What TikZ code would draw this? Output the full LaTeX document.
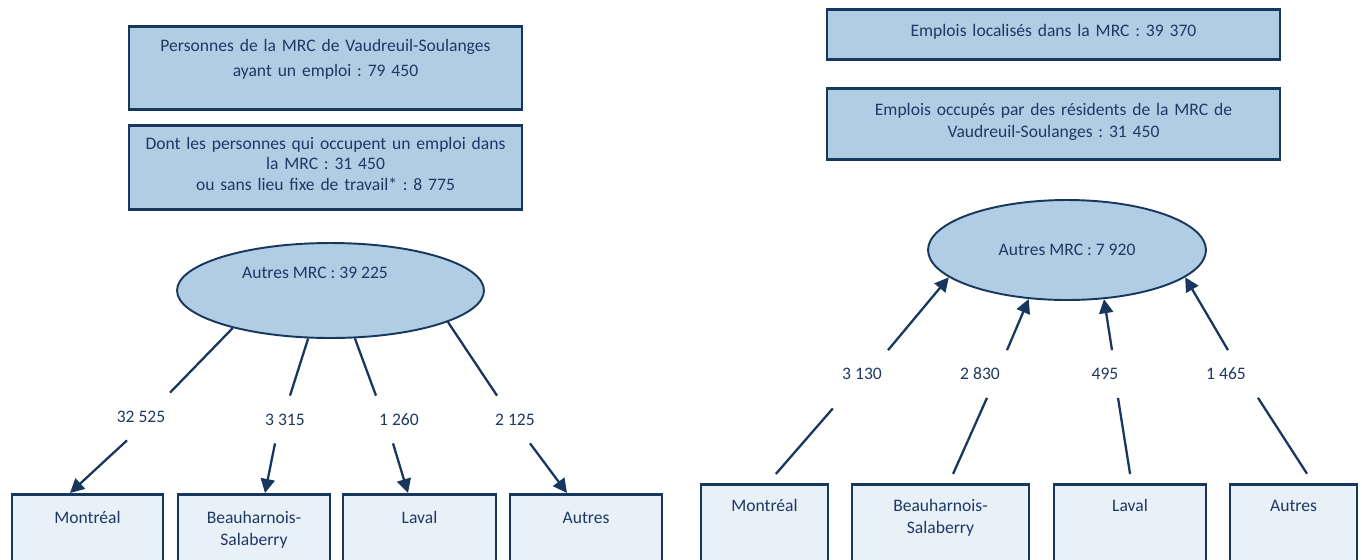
\documentclass[tikz,border=0pt]{standalone}
\usepackage{fontspec}
\setmainfont{Carlito}
\frenchspacing
\usetikzlibrary{arrows.meta,positioning,shapes.geometric}
\definecolor{marine}{RGB}{23,55,94}
\definecolor{encre}{RGB}{31,56,100}
\definecolor{bleupale}{RGB}{176,205,228}
\definecolor{bleuclair}{RGB}{232,240,248}
\tikzset{
    %Define standard arrow tip
    >={Triangle[length=8pt,width=8pt]},
    %Define style for boxes
    boite/.style={
           rectangle,
           draw=marine, line width=1.6pt,
           fill=bleupale,
           inner sep=0pt,
           anchor=north,
           align=center},
    boitebas/.style={
           boite,
           fill=bleuclair},
    bulle/.style={
           ellipse,
           draw=marine, line width=1.1pt,
           fill=bleupale,
           inner sep=0pt},
    chiffre/.style={
           inner sep=0pt,
           minimum height=0.94cm},
    % Define line styles
    lien/.style={
           draw=marine,
           line width=1.3pt},
    fleche/.style={
           lien,
           ->}
}
\begin{document}
\begin{tikzpicture}[x=0.02cm,y=-0.02cm,
  every node/.style={font=\fontsize{10}{11.6}\selectfont, text=encre}]
\useasboundingbox (0,0) rectangle (1362,559);
% left side
\node[boite, text width=7.86cm, text height=0.5cm, text depth=1.16cm] (persL) at (325.5,25)
  {Personnes de la MRC de Vaudreuil-Soulanges\\[2.5pt]ayant un emploi : 79 450};
\node[boite, text width=7.86cm, text height=0.48cm, text depth=1.2cm] (dontL) at (325.5,124)
  {Dont les personnes qui occupent un emploi dans\\la MRC : 31 450\\ou sans lieu fixe de travail* : 8 775};
\node[bulle, minimum width=6.14cm, minimum height=1.9cm,
  label={[xshift=-0.31cm,yshift=0.35cm]center:Autres MRC : 39 225}] (mrcL) at (330.5,290.5) {};
\node[chiffre] (lbA) at (141,416.5) {32 525};
\node[chiffre] (lbB) at (285,419.5) {3 315};
\node[chiffre] (lbC) at (399,419.5) {1 260};
\node[chiffre] (lbD) at (515,419.5) {2 125};
\node[boitebas, text width=3.02cm, text height=0.58cm, text depth=2cm] (mtlL) at (87.5,493) {Montréal};
\node[boitebas, text width=3.04cm, text height=0.58cm, text depth=2cm] (bhsL) at (254,493) {Beauharnois-\\[1pt]Salaberry};
\node[boitebas, text width=3.06cm, text height=0.58cm, text depth=2cm] (lavL) at (419.5,493) {Laval};
\node[boitebas, text width=3.04cm, text height=0.58cm, text depth=2cm] (autL) at (586,493) {Autres};
\draw[lien] (mrcL.201) -- ([xshift=0.58cm]lbA.north);
\draw[lien] (mrcL.245) -- ([xshift=0.1cm]lbB.north);
\draw[lien] (mrcL.297) -- ([xshift=-0.46cm]lbC.north);
\draw[lien] (mrcL.345) -- ([xshift=-0.36cm]lbD.north);
\draw[fleche] ([xshift=-0.28cm]lbA.south) -- ([xshift=-0.35cm]mtlL.north);
\draw[fleche] ([xshift=-0.2cm]lbB.south) -- ([xshift=0.22cm]bhsL.north);
\draw[fleche] ([xshift=-0.12cm]lbC.south) -- ([xshift=-0.23cm]lavL.north);
\draw[fleche] ([xshift=0.3cm]lbD.south) -- ([xshift=-0.38cm]autL.north);
% right side
\node[boite, text width=9.06cm, text height=0.54cm, text depth=0.46cm] (emplR) at (1053.5,8)
  {Emplois localisés dans la MRC : 39 370};
\node[boite, text width=9.06cm, text height=0.54cm, text depth=0.88cm] (occR) at (1053.5,87)
  {Emplois occupés par des résidents de la MRC de\\[1pt]Vaudreuil-Soulanges : 31 450};
\node[bulle, minimum width=5.56cm, minimum height=2cm] (mrcR) at (1067,250) {Autres MRC : 7 920};
\node[chiffre] (lbE) at (862,374) {3 130};
\node[chiffre] (lbF) at (980,374) {2 830};
\node[chiffre] (lbG) at (1105,374) {495};
\node[chiffre] (lbH) at (1226,374) {1 465};
\node[boitebas, text width=2.54cm, text height=0.54cm, text depth=2cm] (mtlR) at (764.5,483) {Montréal};
\node[boitebas, text width=3.54cm, text height=0.54cm, text depth=2cm] (bhsR) at (940.5,483) {Beauharnois-\\[1pt]Salaberry};
\node[boitebas, text width=3.04cm, text height=0.54cm, text depth=2cm] (lavR) at (1130,483) {Laval};
\node[boitebas, text width=2.54cm, text height=0.54cm, text depth=2cm] (autR) at (1293.5,483) {Autres};
\draw[fleche] ([xshift=0.52cm]lbE.north) -- (mrcR.193);
\draw[fleche] ([xshift=0.54cm]lbF.north) -- (mrcR.232);
\draw[fleche] ([xshift=0.14cm]lbG.north) -- (mrcR.307);
\draw[fleche] ([xshift=0.04cm]lbH.north) -- (mrcR.347);
\draw[lien, shorten <=0.28cm, shorten >=0.24cm] ([xshift=-0.4cm]lbE.south) -- ([xshift=0.07cm]mtlR.north);
\draw[lien, shorten >=0.2cm] ([xshift=0.14cm]lbF.south) -- ([xshift=0.17cm]bhsR.north);
\draw[lien, shorten >=0.18cm] ([xshift=0.26cm]lbG.south) -- ([xshift=0.03cm]lavR.north);
\draw[lien, shorten >=0.22cm] ([xshift=0.64cm]lbH.south) -- ([xshift=0.39cm]autR.north);
\end{tikzpicture}
\end{document}
